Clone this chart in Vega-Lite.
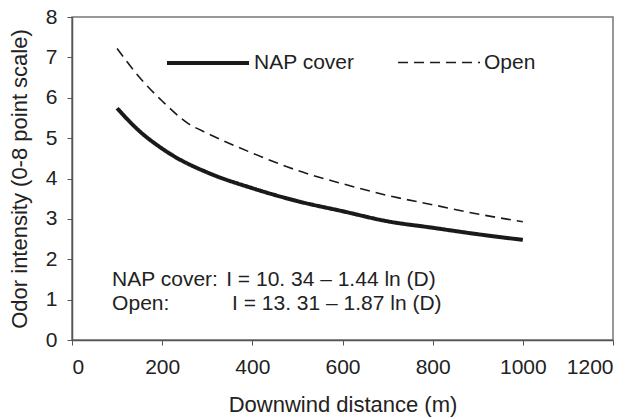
{
  "$schema": "https://vega.github.io/schema/vega-lite/v6.json",
  "width": 541,
  "height": 323,
  "autosize": {"type": "none"},
  "padding": {"left": 72, "top": 17, "right": 27, "bottom": 79},
  "background": "#ffffff",
  "config": {
    "font": "Liberation Sans",
    "view": {"stroke": "#777777", "strokeWidth": 1.5},
    "axis": {
      "labelFont": "Liberation Sans",
      "titleFont": "Liberation Sans",
      "labelFontSize": 21,
      "titleFontSize": 22,
      "titleFontWeight": "normal",
      "labelColor": "#222222",
      "titleColor": "#222222",
      "domainColor": "#555555",
      "tickColor": "#555555",
      "domainWidth": 1.5,
      "tickSize": 5,
      "grid": false
    }
  },
  "datasets": {
    "curves": [
      {"series": "NAP cover", "D": 100, "I": 5.74},
      {"series": "NAP cover", "D": 150, "I": 5.17},
      {"series": "NAP cover", "D": 200, "I": 4.74},
      {"series": "NAP cover", "D": 225, "I": 4.56},
      {"series": "NAP cover", "D": 300, "I": 4.15},
      {"series": "NAP cover", "D": 400, "I": 3.76},
      {"series": "NAP cover", "D": 500, "I": 3.44},
      {"series": "NAP cover", "D": 600, "I": 3.19},
      {"series": "NAP cover", "D": 700, "I": 2.94},
      {"series": "NAP cover", "D": 800, "I": 2.78},
      {"series": "NAP cover", "D": 900, "I": 2.62},
      {"series": "NAP cover", "D": 1000, "I": 2.48},
      {"series": "Open", "D": 100, "I": 7.22},
      {"series": "Open", "D": 150, "I": 6.5},
      {"series": "Open", "D": 200, "I": 5.92},
      {"series": "Open", "D": 258, "I": 5.36},
      {"series": "Open", "D": 300, "I": 5.12},
      {"series": "Open", "D": 400, "I": 4.63},
      {"series": "Open", "D": 500, "I": 4.2},
      {"series": "Open", "D": 600, "I": 3.87},
      {"series": "Open", "D": 700, "I": 3.58},
      {"series": "Open", "D": 800, "I": 3.35},
      {"series": "Open", "D": 900, "I": 3.12},
      {"series": "Open", "D": 1000, "I": 2.93}
    ],
    "equations": [
      {"name": "NAP cover:", "eq": "I = 10. 34 \u2013 1.44 ln (D)", "line": 1},
      {"name": "Open:", "eq": "I = 13. 31 \u2013 1.87 ln (D)", "line": 2}
    ]
  },
  "layer": [
    {
      "data": {"name": "curves"},
      "mark": {"type": "line", "color": "#1a1a1a", "strokeCap": "butt", "interpolate": "monotone"},
      "encoding": {
        "x": {
          "field": "D", "type": "quantitative",
          "scale": {"domain": [0, 1200], "nice": false},
          "axis": {"values": [0, 200, 400, 600, 800, 1000, 1200], "format": "d", "title": "Downwind distance (m)", "labelPadding": 11, "titlePadding": 17}
        },
        "y": {
          "field": "I", "type": "quantitative",
          "scale": {"domain": [0, 8], "nice": false},
          "axis": {"values": [0, 1, 2, 3, 4, 5, 6, 7, 8], "format": "d", "title": "Odor intensity (0-8 point scale)", "labelPadding": 10, "titlePadding": 14}
        },
        "strokeDash": {
          "field": "series", "type": "nominal",
          "scale": {"domain": ["NAP cover", "Open"], "range": [[1, 0], [10, 6]]},
          "legend": {
            "title": null, "orient": "none", "legendX": 93, "legendY": 3,
            "direction": "horizontal", "symbolType": "stroke", "symbolSize": 6724,
            "labelFontSize": 21, "labelFont": "Liberation Sans", "labelColor": "#222222",
            "columnPadding": 39, "labelOffset": 3, "symbolStrokeColor": "#1a1a1a"
          }
        },
        "strokeWidth": {
          "field": "series", "type": "nominal",
          "scale": {"domain": ["NAP cover", "Open"], "range": [4, 1.6]},
          "legend": {
            "title": null, "orient": "none", "legendX": 93, "legendY": 3,
            "direction": "horizontal", "symbolType": "stroke", "symbolSize": 6724,
            "labelFontSize": 21, "labelFont": "Liberation Sans", "labelColor": "#222222",
            "columnPadding": 39, "labelOffset": 3, "symbolStrokeColor": "#1a1a1a"
          }
        }
      }
    },
    {
      "data": {"name": "equations"},
      "transform": [{"filter": "datum.line == 1"}],
      "mark": {"type": "text", "align": "left", "baseline": "middle", "fontSize": 21, "color": "#222222", "font": "Liberation Sans"},
      "encoding": {
        "x": {"datum": 89, "type": "quantitative"},
        "y": {"datum": 1.49, "type": "quantitative"},
        "text": {"field": "name"}
      }
    },
    {
      "data": {"name": "equations"},
      "transform": [{"filter": "datum.line == 1"}],
      "mark": {"type": "text", "align": "left", "baseline": "middle", "fontSize": 21, "color": "#222222", "font": "Liberation Sans"},
      "encoding": {
        "x": {"datum": 342, "type": "quantitative"},
        "y": {"datum": 1.49, "type": "quantitative"},
        "text": {"field": "eq"}
      }
    },
    {
      "data": {"name": "equations"},
      "transform": [{"filter": "datum.line == 2"}],
      "mark": {"type": "text", "align": "left", "baseline": "middle", "fontSize": 21, "color": "#222222", "font": "Liberation Sans"},
      "encoding": {
        "x": {"datum": 89, "type": "quantitative"},
        "y": {"datum": 0.89, "type": "quantitative"},
        "text": {"field": "name"}
      }
    },
    {
      "data": {"name": "equations"},
      "transform": [{"filter": "datum.line == 2"}],
      "mark": {"type": "text", "align": "left", "baseline": "middle", "fontSize": 21, "color": "#222222", "font": "Liberation Sans"},
      "encoding": {
        "x": {"datum": 355, "type": "quantitative"},
        "y": {"datum": 0.89, "type": "quantitative"},
        "text": {"field": "eq"}
      }
    }
  ]
}
